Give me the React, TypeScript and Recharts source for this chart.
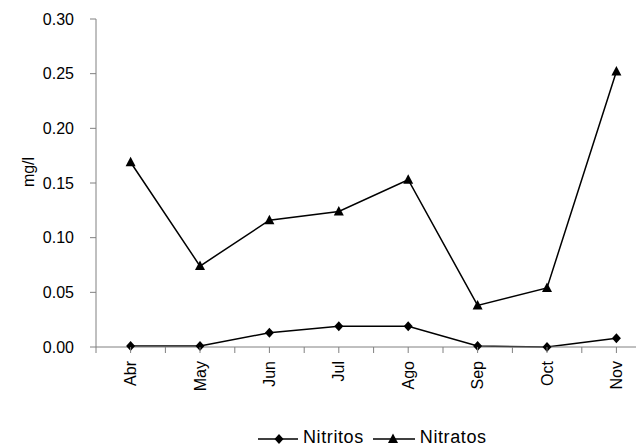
import React from 'react'
import { LineChart, Line, XAxis, YAxis, Legend, Label } from 'recharts'

const months = ['Abr', 'May', 'Jun', 'Jul', 'Ago', 'Sep', 'Oct', 'Nov']
const nitritos = [0.001, 0.001, 0.013, 0.019, 0.019, 0.001, 0.0, 0.008]
const nitratos = [0.169, 0.074, 0.116, 0.124, 0.153, 0.038, 0.054, 0.252]
const yTicks = [0, 0.05, 0.1, 0.15, 0.2, 0.25, 0.3]

const FONT = '"Liberation Sans", Arial, sans-serif'
const AXIS = '#808080'
const HALF_BAND = 34.6

const data = months.map((mes, i) => ({
  mes,
  Nitritos: nitritos[i],
  Nitratos: nitratos[i],
}))

// diamond marker
const Diamond = ({ cx, cy }: any) => (
  <path
    d={`M${cx},${cy - 5}L${cx + 4.5},${cy}L${cx},${cy + 5}L${cx - 4.5},${cy}Z`}
    fill="#000"
  />
)

// triangle marker
const Triangle = ({ cx, cy }: any) => (
  <path
    d={`M${cx},${cy - 5.5}L${cx + 5},${cy + 4}L${cx - 5},${cy + 4}Z`}
    fill="#000"
  />
)

// rotated month label, plus Excel-like tick marks at and between categories
const MonthTick = ({ x, y, payload, index, visibleTicksCount }: any) => {
  const last = index === visibleTicksCount - 1
  return (
    <g>
      <line x1={x} x2={x} y1={y} y2={y + 6} stroke={AXIS} />
      <line x1={x - HALF_BAND} x2={x - HALF_BAND} y1={y} y2={y + 6} stroke={AXIS} />
      {last && (
        <line x1={x + HALF_BAND} x2={x + HALF_BAND} y1={y} y2={y + 6} stroke={AXIS} />
      )}
      <text
        transform={`translate(${x},${y + 14}) rotate(-90)`}
        textAnchor="end"
        dy="0.35em"
        fontFamily={FONT}
        fontSize={16}
        fill="#000"
      >
        {payload.value}
      </text>
    </g>
  )
}

const LegendContent = () => (
  <div
    style={{
      height: 30,
      boxSizing: 'border-box',
      paddingTop: 8,
      paddingLeft: 250,
      display: 'flex',
      alignItems: 'center',
      fontFamily: FONT,
      fontSize: 18,
      letterSpacing: 0.6,
      color: '#000',
    }}
  >
    <svg width={40} height={14} style={{ marginTop: 4 }}>
      <line x1={0} x2={40} y1={7} y2={7} stroke="#000" strokeWidth={1.5} />
      <Diamond cx={21} cy={7} />
    </svg>
    <span style={{ marginLeft: 5, marginRight: 9 }}>Nitritos</span>
    <svg width={42} height={14} style={{ marginTop: 4 }}>
      <line x1={0} x2={42} y1={7} y2={7} stroke="#000" strokeWidth={1.5} />
      <Triangle cx={20} cy={7} />
    </svg>
    <span style={{ marginLeft: 5 }}>Nitratos</span>
  </div>
)

export default function App() {
  return (
    <div style={{ width: 636, height: 440, overflow: 'hidden' }}>
      <LineChart
        width={643}
        height={440}
        data={data}
        margin={{ top: 11, right: 0, left: 0, bottom: 0 }}
      >
        <XAxis
          dataKey="mes"
          padding={{ left: HALF_BAND, right: HALF_BAND }}
          height={71}
          tickLine={false}
          tickSize={0}
          tickMargin={0}
          axisLine={{ stroke: AXIS }}
          tick={<MonthTick />}
          interval={0}
        />
        <YAxis
          width={88}
          domain={[0, 0.3]}
          ticks={yTicks}
          tickFormatter={(v: number) => v.toFixed(2)}
          tickSize={6}
          tickMargin={16}
          tickLine={{ stroke: AXIS }}
          axisLine={{ stroke: AXIS }}
          tick={{ fill: '#000', fontSize: 16, fontFamily: FONT }}
        >
          <Label
            content={() => (
              <text
                transform="translate(20,164) rotate(-90)"
                textAnchor="middle"
                dy="0.35em"
                fontFamily={FONT}
                fontSize={16}
                fill="#000"
              >
                mg/l
              </text>
            )}
          />
        </YAxis>
        <Legend
          verticalAlign="bottom"
          content={<LegendContent />}
          wrapperStyle={{ left: 0, width: 643 }}
        />
        <Line
          dataKey="Nitritos"
          stroke="#000"
          strokeWidth={1.5}
          dot={(p: any) => <Diamond key={`d${p.index}`} cx={p.cx} cy={p.cy} />}
          isAnimationActive={false}
        />
        <Line
          dataKey="Nitratos"
          stroke="#000"
          strokeWidth={1.5}
          dot={(p: any) => <Triangle key={`t${p.index}`} cx={p.cx} cy={p.cy} />}
          isAnimationActive={false}
        />
      </LineChart>
    </div>
  )
}
